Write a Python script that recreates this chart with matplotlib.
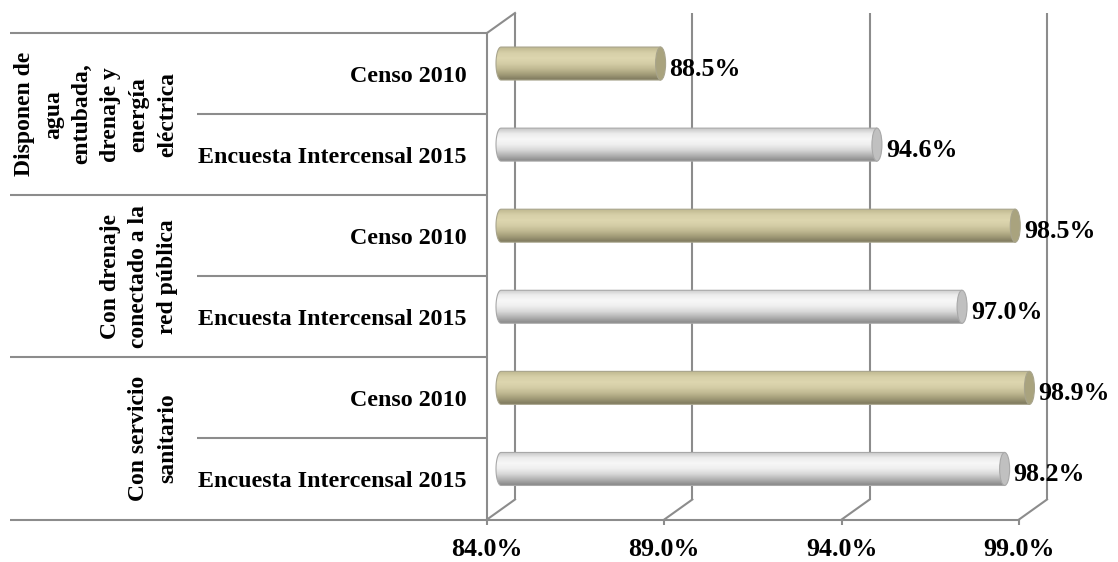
import numpy as np
import matplotlib.pyplot as plt
from matplotlib.patches import Ellipse, Polygon
from matplotlib.colors import LinearSegmentedColormap

plt.rcParams['font.family'] = ['Liberation Serif', 'DejaVu Serif']
plt.rcParams['font.weight'] = 'bold'

groups = ["Disponen de\nagua\nentubada,\ndrenaje y\nenergía\neléctrica",
          "Con drenaje\nconectado a la\nred pública",
          "Con servicio\nsanitario"]
series = ["Censo 2010", "Encuesta Intercensal 2015"]
censo_2010 = [88.5, 98.5, 98.9]
intercensal_2015 = [94.6, 97.0, 98.2]
x_ticks = [84.0, 89.0, 94.0, 99.0]
x_min, x_max = 84.0, 99.0

GRID = '#8c8c8c'
# cylinder shading, top -> bottom
shades = {
    "Censo 2010": ['#bfb890', '#d6cfa8', '#ddd6af', '#d4cda6', '#c0b992',
                   '#a29c78', '#7e795d'],
    "Encuesta Intercensal 2015": ['#c6c6c6', '#ececec', '#f7f7f7', '#efefef',
                                  '#d8d8d8', '#b2b2b2', '#8a8a8a'],
}
cap_face = {"Censo 2010": '#a9a37e', "Encuesta Intercensal 2015": '#c0c0c0'}
edge = {"Censo 2010": '#a8a48c', "Encuesta Intercensal 2015": '#a8a8a8'}

fig = plt.figure(figsize=(11.18, 5.62), dpi=100)
ax_w, ax_h = 532, 486.5
ax = fig.add_axes([487 / 1118, 42.5 / 562, ax_w / 1118, ax_h / 562])
n_rows = 2 * len(groups)
ax.set_xlim(x_min, x_max)
ax.set_ylim(-0.5, n_rows - 0.5)

# depth of the 3d box (pixels -> data units)
px_x = ax_w / (x_max - x_min)
px_y = ax_h / n_rows
dx = 28 / px_x
dy = 20 / px_y

labels, values = [], []
for c, e in zip(censo_2010, intercensal_2015):
    labels += series
    values += [c, e]
ypos = np.arange(n_rows)[::-1]

# back wall + floor
ax.vlines([t + dx for t in x_ticks], -0.5 + dy, n_rows - 0.5 + dy,
          color=GRID, lw=1.5, clip_on=False, zorder=1)
for t in x_ticks:
    ax.plot([t, t + dx], [-0.5, -0.5 + dy], color=GRID, lw=1.5,
            clip_on=False, zorder=1)
ax.plot([x_min, x_min + dx], [n_rows - 0.5, n_rows - 0.5 + dy],
        color=GRID, lw=1.5, clip_on=False, zorder=1)

# cylinders
bar_h = 33 / px_y
cap_w = 10 / px_x
a, b = cap_w / 2, bar_h / 2
ang = np.linspace(np.pi / 2, 3 * np.pi / 2, 40)
for y, v, s in zip(ypos, values, labels):
    yc = y + dy / 2
    x0 = x_min + dx / 2
    x1 = v + dx / 2
    arc = np.column_stack([x0 + a * np.cos(ang), yc + b * np.sin(ang)])
    verts = np.vstack([[[x1, yc + b]], arc, [[x1, yc - b]]])
    body = Polygon(verts, closed=True, transform=ax.transData)
    cmap = LinearSegmentedColormap.from_list(s, shades[s])
    im = ax.imshow(np.linspace(0, 1, 80).reshape(-1, 1), cmap=cmap,
                   extent=(x0 - a, x1, yc - b, yc + b), origin='upper',
                   aspect='auto', interpolation='bilinear', zorder=3)
    im.set_clip_path(body)
    im.set_clip_box(fig.bbox)
    ax.add_patch(Polygon(verts, closed=True, facecolor='none',
                         edgecolor=edge[s], lw=0.8, zorder=3.5,
                         clip_on=False))
    ax.add_patch(Ellipse((x1, yc), cap_w, bar_h, facecolor=cap_face[s],
                         edgecolor=edge[s], lw=0.8, zorder=4, clip_on=False))
    ax.annotate(f"{v:.1f}%", xy=(x1, yc), xytext=(9, -6),
                textcoords='offset pixels', ha='left', va='center',
                fontsize=18.7, fontweight='bold', zorder=5,
                annotation_clip=False)

ax.set_xlim(x_min, x_max)
ax.set_ylim(-0.5, n_rows - 0.5)

# axes styling
ax.set_xticks(x_ticks)
ax.set_xticklabels([f"{t:.1f}%" for t in x_ticks])
ax.tick_params(axis='x', length=3.6, width=1.5, color=GRID,
               labelsize=18.7, pad=9.5)
ax.set_yticks(ypos)
ax.set_yticklabels(labels)
ax.tick_params(axis='y', length=0, pad=14.4, labelsize=17.3)
for sp in ['top', 'right']:
    ax.spines[sp].set_visible(False)
for sp in ['left', 'bottom']:
    ax.spines[sp].set_color(GRID)
    ax.spines[sp].set_linewidth(1.5)

# category table on the left
tr = ax.get_yaxis_transform()
group_edges = [n_rows - 0.5 - 2 * i for i in range(len(groups) + 1)]
ax.hlines(group_edges, (10 - 487) / ax_w, 0, transform=tr, color=GRID,
          lw=1.5, clip_on=False)
ax.hlines([e - 1 for e in group_edges[:-1]], (197 - 487) / ax_w, 0,
          transform=tr, color=GRID, lw=1.5, clip_on=False)
for g, top in zip(groups, group_edges[:-1]):
    ax.text((178 - 487) / ax_w, top - 1, g, transform=tr, rotation=90,
            rotation_mode='anchor', ha='center', va='bottom',
            multialignment='center', linespacing=1.47, fontsize=17,
            fontweight='bold')

fig.savefig("out.png", dpi=100)
